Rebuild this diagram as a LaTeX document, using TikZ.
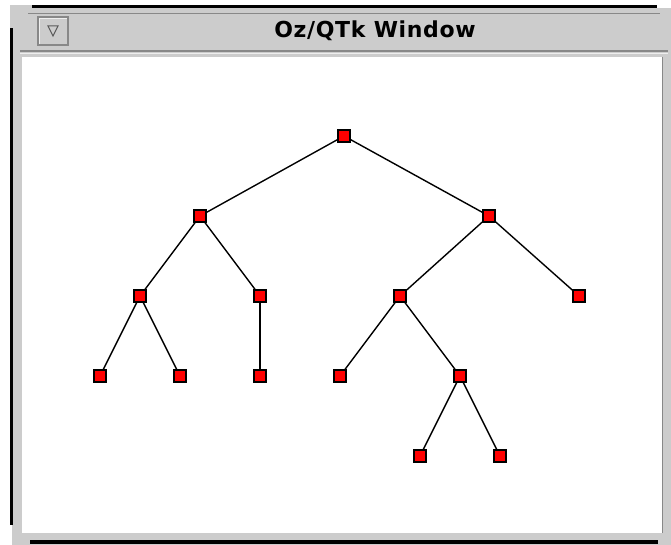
\documentclass[tikz,border=0pt]{standalone}
\usepackage{fontspec}
\setsansfont{DejaVu Sans}
\usetikzlibrary{positioning}
\definecolor{cWin} {HTML}{CCCCCC}
\definecolor{cEdge}{HTML}{888888}
\definecolor{cLite}{HTML}{EEEEEE}
\definecolor{cLeaf}{HTML}{FF0000}
\tikzset{
  vtx/.style  ={draw=black,fill=cLeaf,line width=1.4pt,minimum size=12pt,
                inner sep=0pt,rectangle},
  arc/.style  ={draw=black,line width=1.4pt},
  frame/.style={fill=cWin,draw=none},
  ttl/.style  ={font=\sffamily\bfseries\fontsize{22}{22}\selectfont
                \addfontfeature{LetterSpace=3},inner sep=0pt},
}

\begin{document}
\begin{tikzpicture}[x=1pt, y=-1pt]
\useasboundingbox (0,0) rectangle (671,545);
\fill[white] (0,0) rectangle (671,545);

% ---- window frame --------------------------------------------------------
\fill[frame] (12,8) rectangle (671,57);             % title bar
\fill[frame] (12,28) rectangle (22,545);            % left rim
\fill[frame] (12,533) rectangle (671,545);          % bottom rim
\fill[frame] (662,8) rectangle (671,545);           % right rim
\fill[frame] (10,5) rectangle (32,28);              % stepped corner
\fill[black] (32,5) rectangle (657,8);              % top edge
\fill[black] (10,28) rectangle (13,525);            % left edge
\fill[black] (30,540) rectangle (658,544);          % bottom edge
\draw[cEdge,line width=1pt] (28,14) -- (660,14);
\draw[cEdge,line width=2pt] (20,51) -- (668,51);
\draw[cLite,line width=1pt] (20,54) -- (668,54);
\fill[white] (22,57) rectangle (662,533);           % canvas
\draw[cEdge,line width=1pt] (662.5,57) -- (662.5,533);

% ---- collapse box and title ----------------------------------------------
\draw[draw=cEdge,fill=cWin,line width=1.2pt] (38,17) rectangle (68,45);
\draw[cLite,line width=1pt] (39.5,44) -- (39.5,18.5) -- (67,18.5);
\draw[black!65,line width=1pt] (48,26) -- (58,26) -- (53,36) -- cycle;
\node[ttl] (title) at (375,31) {Oz/QTk Window};

% ---- tree ----------------------------------------------------------------
% {name}/{x}/{y}
\foreach \n/\x/\y in {r/344/136, a/200/216, b/489/216,
    aa/140/296, ab/260/296, ba/400/296, bb/579/296,
    aaa/100/376, aab/180/376, aba/260/376, baa/340/376, bab/460/376,
    baba/420/456, babb/500/456}{%
  \coordinate (\n) at (\x,\y);
}
\foreach \p/\c in {r/a, r/b, a/aa, a/ab, b/ba, b/bb, aa/aaa, aa/aab,
    ab/aba, ba/baa, ba/bab, bab/baba, bab/babb}{%
  \draw[arc] (\p) -- (\c);
}
\foreach \n in {r,a,b,aa,ab,ba,bb,aaa,aab,aba,baa,bab,baba,babb}{%
  \node[vtx] (v\n) at (\n) {};
}
\end{tikzpicture}
\end{document}
